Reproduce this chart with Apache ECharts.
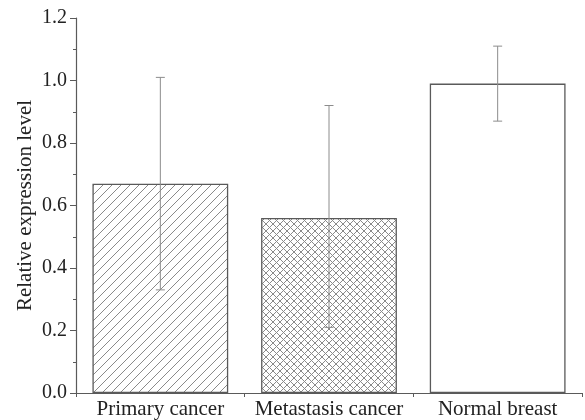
<!DOCTYPE html>
<html>
<head>
<meta charset="utf-8">
<script src="https://cdn.jsdelivr.net/npm/echarts@6/dist/echarts.min.js"></script>
<style>
html,body{margin:0;padding:0;background:#fff;}
#chart{width:585px;height:420px;}
</style>
</head>
<body>
<div id="chart"></div>
<script>
const categories = ['Primary cancer', 'Metastasis cancer', 'Normal breast'];
const means = [0.67, 0.56, 0.99];
const errLow = [0.33, 0.21, 0.87];
const errHigh = [1.01, 0.92, 1.11];

function hatchPattern(type) {
  const size = type === 'cross' ? 7 : 9;
  const c = document.createElement('canvas');
  c.width = size; c.height = size;
  const ctx = c.getContext('2d');
  ctx.fillStyle = '#fff';
  ctx.fillRect(0, 0, size, size);
  ctx.strokeStyle = '#8a8a8a';
  ctx.lineWidth = 1;
  ctx.beginPath();
  ctx.moveTo(-1, size + 1); ctx.lineTo(size + 1, -1);
  if (type === 'cross') {
    ctx.moveTo(-1, -1); ctx.lineTo(size + 1, size + 1);
  }
  ctx.stroke();
  return { image: c, repeat: 'repeat' };
}

const fills = [hatchPattern('diag'), hatchPattern('cross'), '#ffffff'];
const font = '"Liberation Serif", "Times New Roman", serif';

const chart = echarts.init(document.getElementById('chart'), null, { renderer: 'canvas', devicePixelRatio: 1 });
chart.setOption({
  animation: false,
  backgroundColor: '#fff',
  grid: { left: 76, right: 3, top: 18, bottom: 27, containLabel: false },
  xAxis: [{
    type: 'category',
    data: categories,
    axisLine: { lineStyle: { color: '#5a5a5a', width: 1.2 } },
    axisTick: { alignWithLabel: true, length: 7, lineStyle: { color: '#5a5a5a' } },
    axisLabel: { color: '#222', fontFamily: font, fontSize: 21, margin: 6, interval: 0 }
  }, {
    type: 'category',
    data: categories,
    position: 'bottom',
    axisLine: { show: false },
    axisTick: { show: true, length: 4, interval: 0, lineStyle: { color: '#5a5a5a' } },
    axisLabel: { show: false }
  }],
  yAxis: {
    type: 'value',
    min: 0, max: 1.2, interval: 0.2,
    name: 'Relative expression level',
    nameLocation: 'middle',
    nameGap: 40,
    nameMoveOverlap: false,
    nameTextStyle: { color: '#222', fontFamily: font, fontSize: 21 },
    axisLine: { show: true, lineStyle: { color: '#5a5a5a', width: 1.2 } },
    axisTick: { show: true, length: 6, lineStyle: { color: '#5a5a5a' } },
    minorTick: { show: true, splitNumber: 2, length: 3, lineStyle: { color: '#5a5a5a' } },
    splitLine: { show: false },
    axisLabel: { color: '#222', fontFamily: font, fontSize: 20, margin: 9,
      formatter: v => v.toFixed(1) }
  },
  series: [{
    type: 'bar',
    barWidth: '80.5%',
    data: means.map((v, i) => ({
      value: v,
      itemStyle: { color: fills[i], borderColor: '#5a5a5a', borderWidth: 1.3 }
    }))
  }, {
    type: 'custom',
    data: categories.map((c, i) => [i, errLow[i], errHigh[i]]),
    encode: { x: 0, y: [1, 2] },
    z: 5,
    renderItem: function (params, api) {
      const x = api.value(0);
      const lo = api.coord([x, api.value(1)]);
      const hi = api.coord([x, api.value(2)]);
      const hw = 4.5;
      const st = { stroke: '#8c8c8c', lineWidth: 1 };
      return {
        type: 'group',
        children: [
          { type: 'line', shape: { x1: lo[0], y1: lo[1], x2: hi[0], y2: hi[1] }, style: st },
          { type: 'line', shape: { x1: lo[0] - hw, y1: lo[1], x2: lo[0] + hw, y2: lo[1] }, style: st },
          { type: 'line', shape: { x1: hi[0] - hw, y1: hi[1], x2: hi[0] + hw, y2: hi[1] }, style: st }
        ]
      };
    }
  }]
});
</script>
</body>
</html>
